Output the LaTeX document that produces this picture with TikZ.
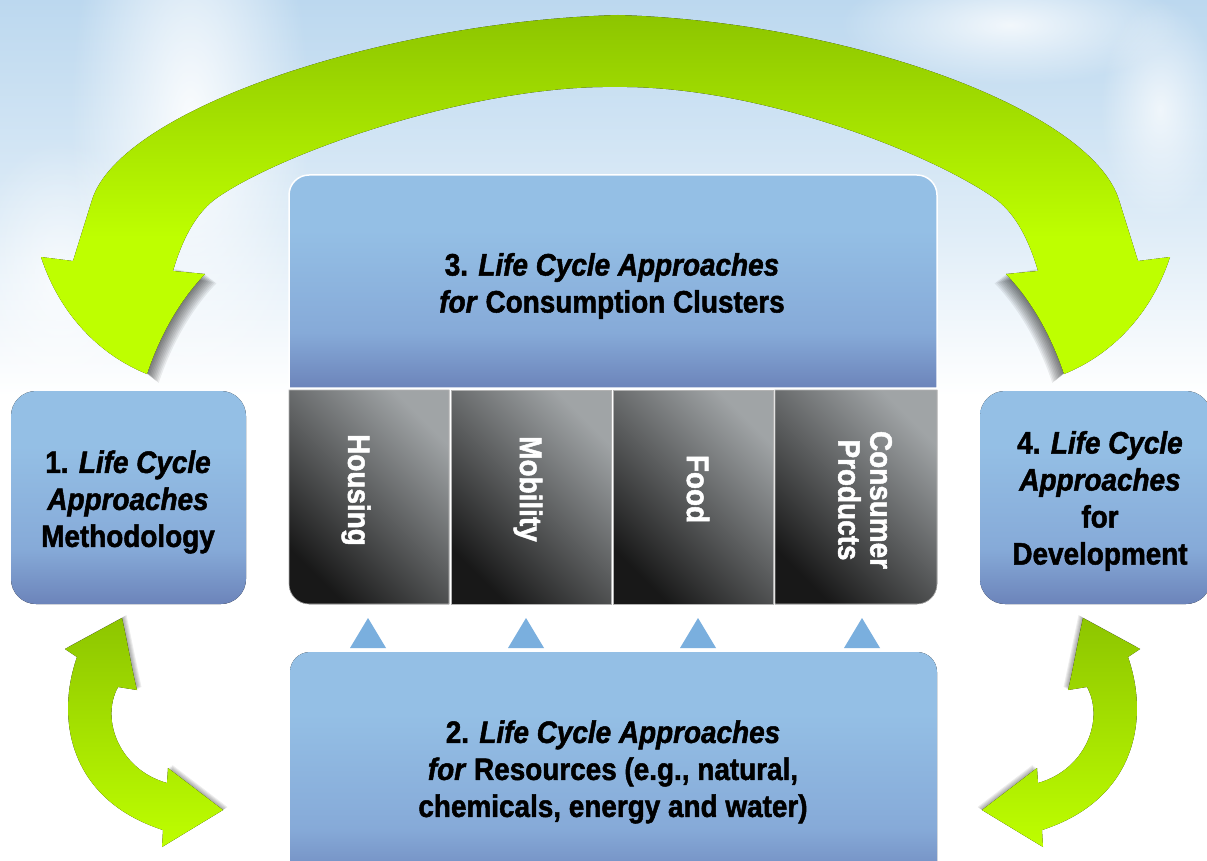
\documentclass[tikz,border=0pt]{standalone}
\usepackage{fontspec}
\newfontfamily\lcfont{Liberation Sans}[FakeStretch=0.9, BoldFeatures={FakeBold=1.6}, BoldItalicFeatures={FakeBold=1.6}]
\usetikzlibrary{fadings}
\definecolor{boxtop}{RGB}{148,191,229}
\definecolor{boxmid}{RGB}{134,170,216}
\definecolor{boxbot}{RGB}{108,132,186}
\definecolor{lime}{RGB}{190,255,0}
\definecolor{olive}{RGB}{141,197,0}
\definecolor{skytop}{RGB}{188,216,239}
\definecolor{skymid}{RGB}{222,236,247}
\definecolor{paneldark}{RGB}{24,24,24}
\definecolor{panellight}{RGB}{160,164,166}
\definecolor{tri}{RGB}{122,175,222}
\pgfdeclareverticalshading{boxshade}{100bp}{color(0bp)=(boxbot); color(25bp)=(boxbot); color(38bp)=(boxmid); color(62bp)=(boxtop); color(100bp)=(boxtop)}
\pgfdeclareverticalshading{archshade}{100bp}{color(0bp)=(lime); color(44bp)=(lime); color(75bp)=(olive); color(100bp)=(olive)}
\pgfdeclareverticalshading{skyshade}{100bp}{color(0bp)=(white); color(52bp)=(white); color(62bp)=(skymid); color(75bp)=(skytop); color(100bp)=(skytop)}
\tikzfading[name=fuzzy, inner color=transparent!0, outer color=transparent!100]
\tikzset{
  boxfill/.style={shading=boxshade},
  boxtext/.style={font=\lcfont\bfseries\fontsize{31}{37}\selectfont, align=center, text=black, inner sep=0pt},
  paneltext/.style={font=\lcfont\bfseries\fontsize{31}{32}\selectfont, align=center, text=white, inner sep=0pt, rotate=-90},
  panelfill/.style={top color=panellight, bottom color=paneldark, shading angle=-45, draw=gray!60, line width=0.6pt},
  shadowlayer/.style={fill=black, opacity=0.07},
}
\begin{document}
\begin{tikzpicture}[x=1pt,y=-1pt]
\useasboundingbox (0,0) rectangle (1207,861);
\clip (0,0) rectangle (1207,861);
% sky
\fill[shading=skyshade] (0,0) rectangle (1207,861);
\fill[white, opacity=0.9, path fading=fuzzy] (190,120) ellipse (120 and 300);
\fill[white, opacity=0.7, path fading=fuzzy] (60,280) ellipse (90 and 140);
\fill[white, opacity=0.8, path fading=fuzzy] (1010,25) ellipse (170 and 60);
\fill[white, opacity=0.7, path fading=fuzzy] (1160,110) ellipse (60 and 110);

% ---- big top arch: shadows of heads
\foreach \k in {1,...,9}{
  \fill[shadowlayer, xshift=\k*1.3pt, yshift=-\k*1.0pt] (173,268) -- (205,274) .. controls (180,300) and (160,335) .. (147,374) -- (110,340) -- cycle;
  \fill[shadowlayer, xshift=-\k*1.3pt, yshift=-\k*1.0pt] (1038,268) -- (1006,274) .. controls (1031,300) and (1051,335) .. (1064,374) -- (1101,340) -- cycle;
}
\fill[shading=archshade] (147,374) .. controls (100,355) and (60,315) .. (41,257) -- (73,261) -- (92,200)
  .. controls (120,110) and (380,22) .. (618,15)
  .. controls (850,22) and (1091,110) .. (1119,200) -- (1138,261) -- (1170,257)
  .. controls (1151,315) and (1111,355) .. (1064,374)
  .. controls (1051,335) and (1031,300) .. (1006,274) -- (1038,271)
  .. controls (1029,240) and (1016,215) .. (997,200)
  .. controls (935,155) and (760,85) .. (615,87)
  .. controls (470,85) and (275,155) .. (214,200)
  .. controls (195,215) and (182,240) .. (173,271) -- (205,274)
  .. controls (180,300) and (160,335) .. (147,374) -- cycle;

% ---- lower double arrows
\foreach \s/\m in {0/1,1205/-1}{
\begin{scope}[xshift=\s pt, xscale=\m]
  \foreach \k in {1,...,5}{
    \fill[shadowlayer, xshift=\k*0.9pt, yshift=\k*0.6pt] (122,618) -- (137,690) -- (118,687) -- (77,657) -- (65,649) -- cycle;
    \fill[shadowlayer, xshift=\k*0.9pt, yshift=\k*0.6pt] (168,768) -- (223,810) -- (162,847) -- (163,830) -- (167,783) -- cycle;
  }
  \fill[top color=olive, bottom color=lime] (122,618) .. controls (128,645) and (132,670) .. (137,690) -- (118,687)
    .. controls (100,720) and (120,770) .. (167,783) -- (168,768) -- (223,810) -- (162,847) -- (163,830)
    .. controls (70,800) and (55,720) .. (77,657) -- (65,649) -- cycle;
\end{scope}
}

% ---- box 1
\fill[boxfill, rounded corners=25pt] (11,391) rectangle (246,604);
\node[boxtext] (m1) at (128,502) {1. \textit{Life Cycle}\\ \textit{Approaches}\\ Methodology};
% ---- box 4
\fill[boxfill, rounded corners=25pt] (980,391) rectangle (1211,604);
\node[boxtext] (m4) at (1100,501) {4. \textit{Life Cycle}\\ \textit{Approaches}\\ for\\ Development};
% ---- box 3
\fill[boxfill, draw=white, line width=1.5pt] (289,388) -- (289,195) .. controls (289,184) and (298,175) .. (309,175) -- (917,175)
   .. controls (928,175) and (937,184) .. (937,195) -- (937,388) -- cycle;
\node[boxtext] (m3) at (612,286) {3. \textit{Life Cycle Approaches}\\ \textit{for} Consumption Clusters};
% panels
\fill[panelfill] (289,390) -- (449,390) -- (449,604) -- (309,604) .. controls (298,604) and (289,595) .. (289,584) -- cycle;
\fill[panelfill] (451,390) rectangle (611,604);
\fill[panelfill] (613,390) rectangle (773,604);
\fill[panelfill] (775,390) -- (937,390) -- (937,584) .. controls (937,595) and (928,604) .. (917,604) -- (775,604) -- cycle;
\node[paneltext] (housing) at (356,490) {Housing};
\node[paneltext] (mobility) at (528,489) {Mobility};
\node[paneltext] (food) at (698,489) {Food};
\node[paneltext] (consumer) at (865,500) {Consumer\\ Products};
% triangles
\foreach \cx in {368,526,698,862}{
  \fill[tri] (\cx-18,648) -- (\cx,618) -- (\cx+18,648) -- cycle;
}
% ---- box 2
\fill[boxfill, rounded corners=20pt] (290,652) rectangle (937,890);
\node[boxtext] (m2) at (613,772) {2. \textit{Life Cycle Approaches}\\ \textit{for} Resources (e.g., natural,\\ chemicals, energy and water)};
\end{tikzpicture}
\end{document}
